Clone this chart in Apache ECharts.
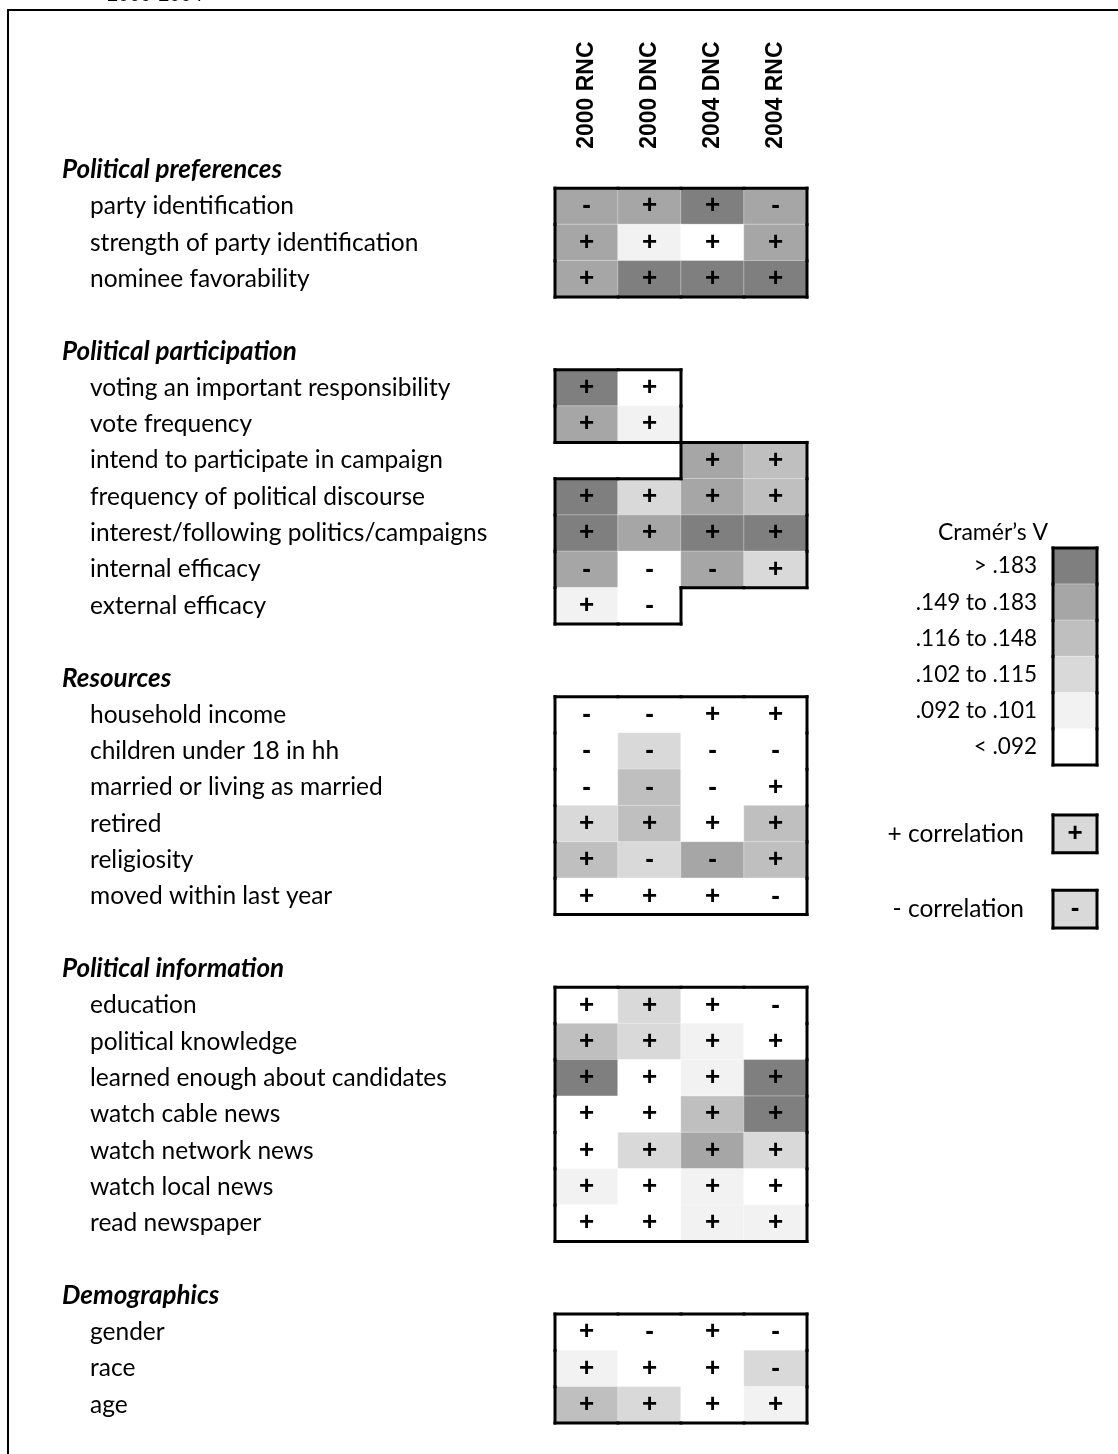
<!DOCTYPE html>
<html>
<head>
<meta charset="utf-8">
<script src="https://cdn.jsdelivr.net/npm/echarts@6/dist/echarts.min.js"></script>
<style>
html,body{margin:0;padding:0;background:#fff;}
#chart{width:1118px;height:1454px;}
</style>
</head>
<body>
<div id="chart"></div>
<script>
// ---------------- DATA ----------------
const columns = ['2000 RNC', '2000 DNC', '2004 DNC', '2004 RNC'];
const sectionTitles = ['Political preferences', 'Political participation', 'Resources', 'Political information', 'Demographics'];

const prefItems = ['party identification', 'strength of party identification', 'nominee favorability'];
const prefLevels = [[4, 4, 5, 4], [4, 1, 0, 4], [4, 5, 5, 5]];
const prefSigns = [['-', '+', '+', '-'], ['+', '+', '+', '+'], ['+', '+', '+', '+']];

const partItems = ['voting an important responsibility', 'vote frequency', 'intend to participate in campaign',
  'frequency of political discourse', 'interest/following politics/campaigns', 'internal efficacy', 'external efficacy'];
const partLevels = [[5, 0, null, null], [4, 1, null, null], [null, null, 4, 3], [5, 2, 4, 3], [5, 4, 5, 5], [4, 0, 4, 2], [1, 0, null, null]];
const partSigns = [['+', '+', null, null], ['+', '+', null, null], [null, null, '+', '+'], ['+', '+', '+', '+'],
  ['+', '+', '+', '+'], ['-', '-', '-', '+'], ['+', '-', null, null]];

const resItems = ['household income', 'children under 18 in hh', 'married or living as married', 'retired', 'religiosity', 'moved within last year'];
const resLevels = [[0, 0, 0, 0], [0, 2, 0, 0], [0, 3, 0, 0], [2, 3, 0, 3], [3, 2, 4, 3], [0, 0, 0, 0]];
const resSigns = [['-', '-', '+', '+'], ['-', '-', '-', '-'], ['-', '-', '-', '+'], ['+', '+', '+', '+'], ['+', '-', '-', '+'], ['+', '+', '+', '-']];

const infoItems = ['education', 'political knowledge', 'learned enough about candidates', 'watch cable news', 'watch network news', 'watch local news', 'read newspaper'];
const infoLevels = [[0, 2, 0, 0], [3, 2, 1, 0], [5, 0, 1, 5], [0, 0, 3, 5], [0, 2, 4, 2], [1, 0, 1, 0], [0, 0, 1, 1]];
const infoSigns = [['+', '+', '+', '-'], ['+', '+', '+', '+'], ['+', '+', '+', '+'], ['+', '+', '+', '+'], ['+', '+', '+', '+'], ['+', '+', '+', '+'], ['+', '+', '+', '+']];

const demoItems = ['gender', 'race', 'age'];
const demoLevels = [[0, 0, 0, 0], [1, 0, 0, 2], [3, 2, 0, 1]];
const demoSigns = [['+', '-', '+', '-'], ['+', '+', '+', '-'], ['+', '+', '+', '+']];

const legendLabels = ['> .183', '.149 to .183', '.116 to .148', '.102 to .115', '.092 to .101', '< .092'];
const legendLevels = [5, 4, 3, 2, 1, 0];
const levelColors = ['#ffffff', '#f2f2f2', '#d9d9d9', '#bfbfbf', '#a6a6a6', '#7f7f7f'];

const corrLabels = ['+ correlation', '', '- correlation'];
const corrSigns = ['+', null, '-'];
const corrLevel = 2;

// ---------------- BUILD ----------------
const sections = [
  [prefItems, prefLevels, prefSigns],
  [partItems, partLevels, partSigns],
  [resItems, resLevels, resSigns],
  [infoItems, infoLevels, infoSigns],
  [demoItems, demoLevels, demoSigns]
];
const yCats = [];
const mainData = [];
sections.forEach((sec, si) => {
  yCats.push('H|' + sectionTitles[si]);
  sec[0].forEach((item, ri) => {
    const row = yCats.length;
    yCats.push('I|' + item);
    sec[1][ri].forEach((lv, ci) => {
      if (lv !== null) mainData.push([ci, row, lv, sec[2][ri][ci]]);
    });
  });
  if (si < sections.length - 1) yCats.push('B|' + si);
});

const legendData = legendLevels.map((lv, i) => [0, i, lv, '']);
const corrData = [];
corrSigns.forEach((s, i) => { if (s !== null) corrData.push([0, i, corrLevel, s]); });

function outlineRenderer(data) {
  const set = new Set(data.map(d => d[0] + ',' + d[1]));
  return function (params, api) {
    const x = api.value(0), y = api.value(1);
    const c = api.coord([x, y]);
    const s = api.size([1, 1]);
    const l = c[0] - s[0] / 2, r = c[0] + s[0] / 2, t = c[1] - s[1] / 2, b = c[1] + s[1] / 2;
    const st = { stroke: '#000', lineWidth: 3, lineCap: 'square' };
    const ch = [];
    if (!set.has(x + ',' + (y - 1))) ch.push({ type: 'line', shape: { x1: l, y1: t, x2: r, y2: t }, style: st });
    if (!set.has(x + ',' + (y + 1))) ch.push({ type: 'line', shape: { x1: l, y1: b, x2: r, y2: b }, style: st });
    if (!set.has((x - 1) + ',' + y)) ch.push({ type: 'line', shape: { x1: l, y1: t, x2: l, y2: b }, style: st });
    if (!set.has((x + 1) + ',' + y)) ch.push({ type: 'line', shape: { x1: r, y1: t, x2: r, y2: b }, style: st });
    return { type: 'group', children: ch };
  };
}

const signLabel = {
  show: true,
  formatter: p => p.value[3] || '',
  color: '#000',
  fontFamily: 'Liberation Sans',
  fontWeight: 'bold',
  fontSize: 26
};
const cellStyle = { borderColor: 'rgba(255,255,255,0.35)', borderWidth: 1 };

const bandH = 36.32;
const mainTop = 170 - bandH / 2;
const textFont = 'Lato';

const option = {
  animation: false,
  backgroundColor: '#fff',
  grid: [
    { left: 555, width: 252, top: mainTop, height: bandH * yCats.length },
    { left: 1053, width: 44, top: 548, height: 217 },
    { left: 1053, width: 44, top: 815, height: 113 }
  ],
  xAxis: [
    {
      gridIndex: 0, type: 'category', data: columns, position: 'top',
      axisLine: { show: false }, axisTick: { show: false }, splitLine: { show: false },
      axisLabel: { rotate: -90, margin: 3, color: '#000', fontFamily: 'Liberation Sans', fontWeight: 'bold', fontSize: 23 }
    },
    { gridIndex: 1, type: 'category', data: ['v'], show: false },
    { gridIndex: 2, type: 'category', data: ['c'], show: false }
  ],
  yAxis: [
    {
      gridIndex: 0, type: 'category', data: yCats, inverse: true,
      axisLine: { show: false }, axisTick: { show: false }, splitLine: { show: false },
      axisLabel: {
        interval: 0, align: 'left', margin: 493, color: '#000', fontFamily: textFont, fontSize: 24.5,
        formatter: v => {
          const k = v.slice(0, 1), t = v.slice(2);
          if (k === 'H') return '{h|' + t + '}';
          if (k === 'I') return '{i|' + t + '}';
          return '';
        },
        rich: {
          h: { fontFamily: textFont, fontSize: 26, fontWeight: 'bold', fontStyle: 'italic', color: '#000' },
          i: { fontFamily: textFont, fontSize: 24.5, color: '#000', padding: [0, 0, 0, 28] }
        }
      }
    },
    {
      gridIndex: 1, type: 'category', data: legendLabels, inverse: true,
      axisLine: { show: false }, axisTick: { show: false },
      axisLabel: { interval: 0, margin: 16, color: '#000', fontFamily: textFont, fontSize: 22.5 }
    },
    {
      gridIndex: 2, type: 'category', data: corrLabels, inverse: true,
      axisLine: { show: false }, axisTick: { show: false },
      axisLabel: { interval: 0, margin: 29, color: '#000', fontFamily: textFont, fontSize: 24.5 }
    }
  ],
  visualMap: {
    show: false, type: 'piecewise', dimension: 2, seriesIndex: [0, 2, 4],
    pieces: levelColors.map((c, i) => ({ value: i, color: c }))
  },
  graphic: [
    { type: 'polyline', shape: { points: [[8, 1454], [8, 10], [1118, 10]] }, style: { stroke: '#000', lineWidth: 2, fill: null }, z: 10 },
    { type: 'text', x: 107, y: 5, style: { text: '2000-2004', fontFamily: 'Liberation Sans', fontSize: 20, fill: '#000', verticalAlign: 'bottom' } },
    { type: 'text', x: 993, y: 533, style: { text: 'Cramér’s V', fontFamily: textFont, fontSize: 23, fill: '#000', align: 'center', verticalAlign: 'middle' } }
  ],
  series: [
    { type: 'heatmap', xAxisIndex: 0, yAxisIndex: 0, data: mainData, label: signLabel, itemStyle: cellStyle, emphasis: { disabled: true } },
    { type: 'custom', xAxisIndex: 0, yAxisIndex: 0, data: mainData, renderItem: outlineRenderer(mainData), z: 5, silent: true },
    { type: 'heatmap', xAxisIndex: 1, yAxisIndex: 1, data: legendData, itemStyle: cellStyle, emphasis: { disabled: true } },
    { type: 'custom', xAxisIndex: 1, yAxisIndex: 1, data: legendData, renderItem: outlineRenderer(legendData), z: 5, silent: true },
    { type: 'heatmap', xAxisIndex: 2, yAxisIndex: 2, data: corrData, label: signLabel, itemStyle: cellStyle, emphasis: { disabled: true } },
    { type: 'custom', xAxisIndex: 2, yAxisIndex: 2, data: corrData, renderItem: outlineRenderer(corrData), z: 5, silent: true }
  ]
};

const chart = echarts.init(document.getElementById('chart'), null, { renderer: 'canvas' });
chart.setOption(option);
</script>
</body>
</html>
